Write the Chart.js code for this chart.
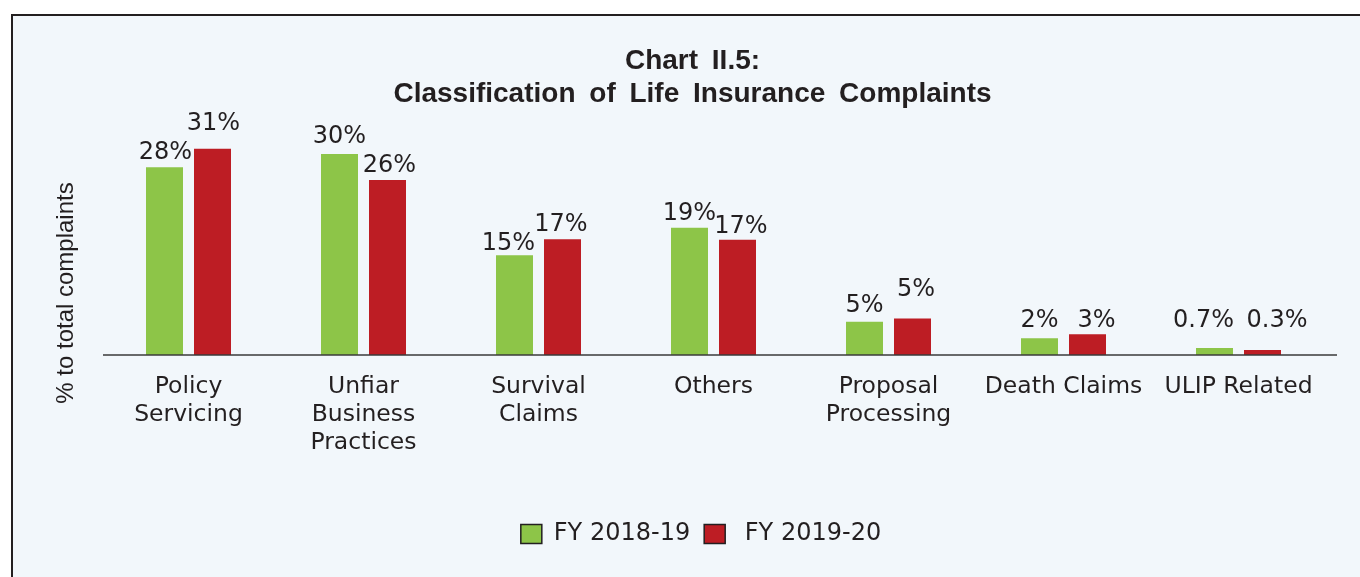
<!DOCTYPE html>
<html>
<head>
<meta charset="utf-8">
<script src="https://cdn.jsdelivr.net/npm/chart.js@4.4.1/dist/chart.umd.min.js"></script>
<style>
  html, body { margin: 0; padding: 0; background: #ffffff; overflow: hidden; width: 1360px; height: 577px; }
  #frame { position: absolute; left: 11px; top: 14px; width: 1400px; height: 620px; border: 2px solid #231F20; background: #F2F7FB; }
  #wrap { position: absolute; left: 0; top: 0; width: 1360px; height: 577px; }
</style>
</head>
<body>
<div id="frame"></div>
<div id="wrap"><canvas id="c"></canvas></div>
<script>
const titleLines = ['Chart II.5:', 'Classification of Life Insurance Complaints'];
const yAxisTitle = '% to total complaints';
const categories = [
  ['Policy', 'Servicing'],
  ['Unfiar', 'Business', 'Practices'],
  ['Survival', 'Claims'],
  ['Others'],
  ['Proposal', 'Processing'],
  ['Death Claims'],
  ['ULIP Related']
];
const seriesNames = ['FY 2018-19', 'FY 2019-20'];
const fy1819 = [28.2, 30.2, 15.0, 19.1, 5.0, 2.5, 1.05];
const fy1920 = [31.0, 26.3, 17.4, 17.3, 5.5, 3.1, 0.75];
const fy1819Labels = ['28%', '30%', '15%', '19%', '5%', '2%', '0.7%'];
const fy1920Labels = ['31%', '26%', '17%', '17%', '5%', '3%', '0.3%'];

const TEXT = '#231F20';
const BODY_FONT = '"DejaVu Sans", "Liberation Sans", sans-serif';

const titlePlugin = {
  id: 'chartTitleText',
  afterDraw(chart) {
    const ctx = chart.ctx;
    ctx.save();
    ctx.fillStyle = TEXT;
    ctx.font = 'bold 28px "Liberation Sans", Arial, sans-serif';
    try { ctx.wordSpacing = '6px'; } catch (e) {}
    ctx.textAlign = 'center';
    ctx.textBaseline = 'alphabetic';
    ctx.fillText(titleLines[0], 692.5, 68.5);
    ctx.fillText(titleLines[1], 692.5, 102);
    ctx.restore();
    ctx.save();
    ctx.fillStyle = TEXT;
    ctx.font = '24px "Liberation Sans", Arial, sans-serif';
    ctx.textAlign = 'center';
    ctx.textBaseline = 'alphabetic';
    ctx.translate(72.5, 293);
    ctx.rotate(-Math.PI / 2);
    ctx.fillText(yAxisTitle, 0, 0);
    ctx.restore();
  }
};

const axisLinePlugin = {
  id: 'baseLine',
  afterDatasetsDraw(chart) {
    const ctx = chart.ctx;
    const y = chart.scales.y.getPixelForValue(0);
    ctx.save();
    ctx.strokeStyle = '#3A3A3A';
    ctx.lineWidth = 1.5;
    ctx.beginPath();
    ctx.moveTo(chart.chartArea.left + 2, y);
    ctx.lineTo(chart.chartArea.right + 11, y);
    ctx.stroke();
    ctx.restore();
  }
};

const valueLabelPlugin = {
  id: 'valueLabels',
  afterDatasetsDraw(chart, args, opts) {
    const ctx = chart.ctx;
    const texts = [fy1819Labels, fy1920Labels];
    ctx.save();
    ctx.fillStyle = TEXT;
    ctx.font = '24px ' + BODY_FONT;
    ctx.textAlign = 'center';
    ctx.textBaseline = 'alphabetic';
    chart.data.datasets.forEach((ds, di) => {
      const meta = chart.getDatasetMeta(di);
      meta.data.forEach((bar, i) => {
        const n = opts.nudge[di][i];
        ctx.fillText(texts[di][i], bar.x + n[0], bar.y - 8 + n[1]);
      });
    });
    ctx.restore();
  }
};

new Chart(document.getElementById('c'), {
  type: 'bar',
  data: {
    labels: categories,
    datasets: [
      { label: seriesNames[0], data: fy1819, backgroundColor: '#8DC548', borderWidth: 0,
        categoryPercentage: 0.5486, barPercentage: 0.7708 },
      { label: seriesNames[1], data: fy1920, backgroundColor: '#BD1D24', borderWidth: 0,
        categoryPercentage: 0.5486, barPercentage: 0.7708 }
    ]
  },
  options: {
    responsive: true,
    maintainAspectRatio: false,
    animation: false,
    layout: { padding: { left: 76, right: 34, top: 122, bottom: 21 } },
    scales: {
      x: {
        grid: { display: false, drawTicks: false, tickLength: 0 },
        border: { display: false },
        ticks: {
          color: TEXT,
          font: { family: BODY_FONT, size: 23.5, lineHeight: 28 / 23.5 },
          padding: 18,
          maxRotation: 0,
          minRotation: 0,
          autoSkip: false
        },
        afterFit(scale) { scale.height = 153; }
      },
      y: {
        min: 0,
        max: 35,
        grid: { display: false, drawTicks: false },
        border: { display: false },
        ticks: { display: false },
        afterFit(scale) { scale.width = 25; }
      }
    },
    plugins: {
      title: { display: false },
      tooltip: { enabled: false },
      legend: {
        position: 'bottom',
        labels: {
          color: TEXT,
          font: { family: BODY_FONT, size: 24 },
          boxWidth: 21,
          boxHeight: 19,
          padding: 14,
          generateLabels(chart) {
            const items = Chart.defaults.plugins.legend.labels.generateLabels(chart);
            return items.map((it, i) => Object.assign(it, {
              text: (i === 1 ? ' ' : '') + seriesNames[i],
              strokeStyle: TEXT,
              lineWidth: 1.5
            }));
          }
        }
      },
      valueLabels: {
        nudge: [
          [[1, 0], [0, -3], [-6, 3], [0, 0], [0, -2], [0, -3], [-11, -13]],
          [[1, -11], [2, 0], [-1.5, 0], [3.5, 1], [3.5, -14], [9, 1], [14.5, -15]]
        ]
      }
    }
  },
  plugins: [titlePlugin, axisLinePlugin, valueLabelPlugin]
});
</script>
</body>
</html>
